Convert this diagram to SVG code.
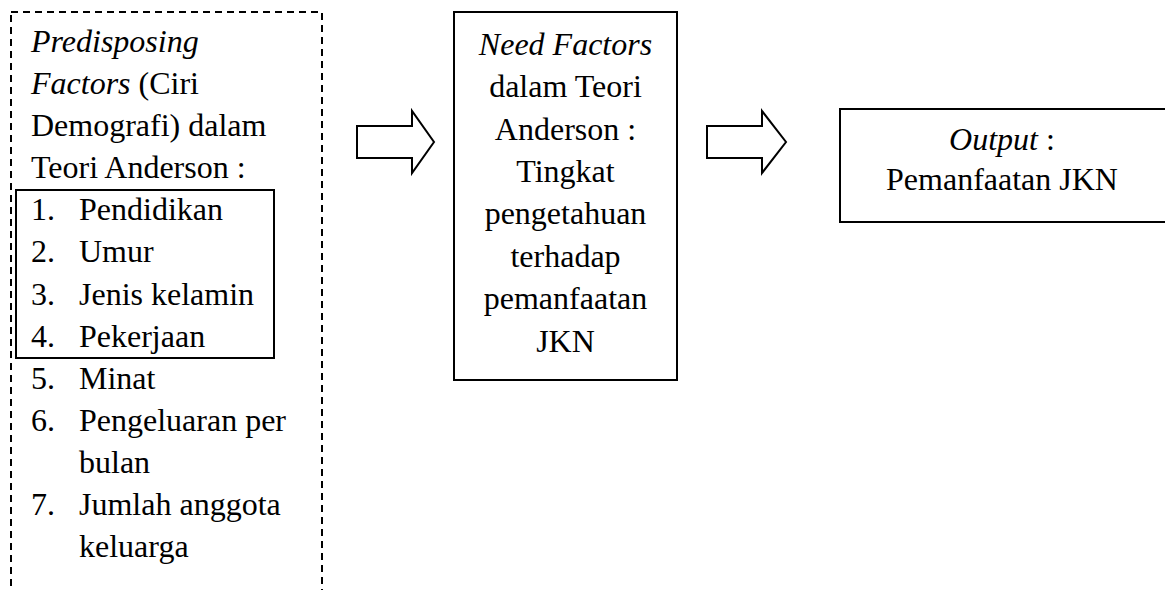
<svg xmlns="http://www.w3.org/2000/svg" width="1165" height="590" viewBox="0 0 1165 590">
<rect width="1165" height="590" fill="#fff"/>
<g id="predisposing">
<rect x="11" y="12" width="311" height="600" fill="none" stroke="#000" stroke-width="2" stroke-dasharray="7 5"/>
<rect x="16" y="190" width="258" height="168" fill="none" stroke="#000" stroke-width="2"/>
<text x="31" y="52" font-family="Liberation Serif" font-size="32" font-style="italic">Predisposing</text>
<text x="31" y="94" font-family="Liberation Serif" font-size="32"><tspan font-style="italic">Factors</tspan> (Ciri</text>
<text x="31" y="136" font-family="Liberation Serif" font-size="32">Demografi) dalam</text>
<text x="31" y="178" font-family="Liberation Serif" font-size="32">Teori Anderson :</text>
<text x="31" y="220" font-family="Liberation Serif" font-size="32">1.</text>
<text x="79" y="220" font-family="Liberation Serif" font-size="32">Pendidikan</text>
<text x="31" y="262" font-family="Liberation Serif" font-size="32">2.</text>
<text x="79" y="262" font-family="Liberation Serif" font-size="32">Umur</text>
<text x="31" y="305" font-family="Liberation Serif" font-size="32">3.</text>
<text x="79" y="305" font-family="Liberation Serif" font-size="32">Jenis kelamin</text>
<text x="31" y="347" font-family="Liberation Serif" font-size="32">4.</text>
<text x="79" y="347" font-family="Liberation Serif" font-size="32">Pekerjaan</text>
<text x="31" y="389" font-family="Liberation Serif" font-size="32">5.</text>
<text x="79" y="389" font-family="Liberation Serif" font-size="32">Minat</text>
<text x="31" y="431" font-family="Liberation Serif" font-size="32">6.</text>
<text x="79" y="431" font-family="Liberation Serif" font-size="32">Pengeluaran per</text>
<text x="79" y="473" font-family="Liberation Serif" font-size="32">bulan</text>
<text x="31" y="515" font-family="Liberation Serif" font-size="32">7.</text>
<text x="79" y="515" font-family="Liberation Serif" font-size="32">Jumlah anggota</text>
<text x="79" y="557" font-family="Liberation Serif" font-size="32">keluarga</text>
</g>
<g id="need">
<rect x="454" y="12" width="223" height="368" fill="none" stroke="#000" stroke-width="2"/>
<text x="565.5" y="55" font-family="Liberation Serif" font-size="32" text-anchor="middle" font-style="italic">Need Factors</text>
<text x="565.5" y="97" font-family="Liberation Serif" font-size="32" text-anchor="middle">dalam Teori</text>
<text x="565.5" y="140" font-family="Liberation Serif" font-size="32" text-anchor="middle">Anderson :</text>
<text x="565.5" y="182" font-family="Liberation Serif" font-size="32" text-anchor="middle">Tingkat</text>
<text x="565.5" y="224" font-family="Liberation Serif" font-size="32" text-anchor="middle">pengetahuan</text>
<text x="565.5" y="267" font-family="Liberation Serif" font-size="32" text-anchor="middle">terhadap</text>
<text x="565.5" y="309" font-family="Liberation Serif" font-size="32" text-anchor="middle">pemanfaatan</text>
<text x="565.5" y="352" font-family="Liberation Serif" font-size="32" text-anchor="middle">JKN</text>
</g>
<g id="output">
<rect x="840" y="109" width="327" height="113" fill="none" stroke="#000" stroke-width="2"/>
<text x="1002" y="150" font-family="Liberation Serif" font-size="32" text-anchor="middle"><tspan font-style="italic">Output</tspan> :</text>
<text x="1002" y="190" font-family="Liberation Serif" font-size="32" text-anchor="middle">Pemanfaatan JKN</text>
</g>
<g id="connectors">
<path d="M357,126 H412 V111 L434,142 L412,173 V158 H357 Z" fill="#fff" stroke="#000" stroke-width="2"/>
<path d="M707,126 H762 V111 L786,142 L762,173 V158 H707 Z" fill="#fff" stroke="#000" stroke-width="2"/>
</g>
</svg>
